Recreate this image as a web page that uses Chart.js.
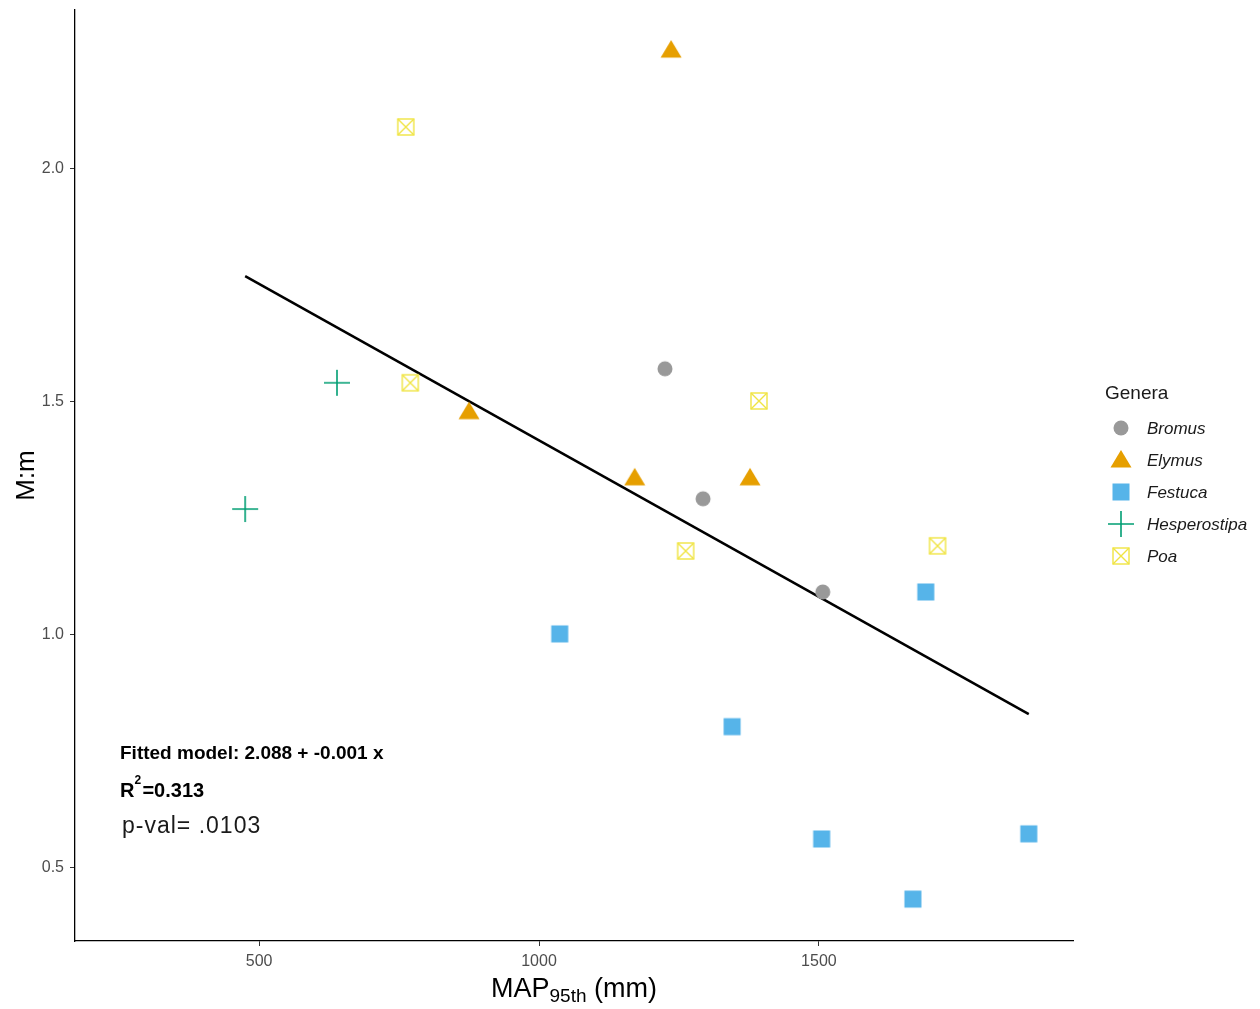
<!DOCTYPE html>
<html>
<head>
<meta charset="utf-8">
<script src="https://cdn.jsdelivr.net/npm/chart.js@4.4.1/dist/chart.umd.min.js"></script>
<style>
  html, body { margin: 0; padding: 0; background: #ffffff; }
  #wrap { width: 1260px; height: 1009px; position: relative; }
</style>
</head>
<body>
<div id="wrap"><canvas id="chart" width="1260" height="1009"></canvas></div>
<script>
// Mean annual precipitation (95th percentile, mm) vs M:m ratio, by genus
const bromusX = [1225, 1293, 1507];
const bromusY = [1.571, 1.292, 1.092];
const elymusX = [1236, 875, 1171, 1377];
const elymusY = [2.255, 1.479, 1.337, 1.337];
const festucaX = [1037, 1345, 1505, 1668, 1691, 1875];
const festucaY = [1.002, 0.803, 0.562, 0.433, 1.092, 0.573];
const hesperostipaX = [639, 475];
const hesperostipaY = [1.541, 1.270];
const poaX = [762, 770, 1393, 1262, 1712];
const poaY = [2.090, 1.541, 1.502, 1.180, 1.191];

// Fitted regression line endpoints
const fitX = [475, 1875];
const fitY = [1.770, 0.830];

const xTicks = [500, 1000, 1500];
const yTicks = [0.5, 1.0, 1.5, 2.0];

const generaNames = ['Bromus', 'Elymus', 'Festuca', 'Hesperostipa', 'Poa'];
const generaColors = ['#999999', '#E69F00', '#56B4E9', '#009E73', '#F0E442'];

const modelText = 'Fitted model: 2.088 + -0.001 x';
const r2Text = '0.313';
const pText = 'p-val= .0103';

function makeMarker(kind, color) {
  const s = 30;
  const c = document.createElement('canvas');
  c.width = s; c.height = s;
  const g = c.getContext('2d');
  const m = s / 2;
  g.fillStyle = color;
  g.strokeStyle = color;
  if (kind === 'circle') {
    g.beginPath(); g.arc(m, m, 7.5, 0, Math.PI * 2); g.fill();
  } else if (kind === 'triangle') {
    g.beginPath(); g.moveTo(m, m - 10); g.lineTo(m + 10.5, m + 7.5); g.lineTo(m - 10.5, m + 7.5); g.closePath(); g.fill();
  } else if (kind === 'square') {
    g.fillRect(m - 8.5, m - 8.5, 17, 17);
  } else if (kind === 'plus') {
    g.lineWidth = 1.6;
    g.beginPath(); g.moveTo(m - 13, m); g.lineTo(m + 13, m); g.moveTo(m, m - 13); g.lineTo(m, m + 13); g.stroke();
  } else if (kind === 'boxx') {
    g.lineWidth = 1.4;
    g.strokeRect(m - 8, m - 8, 16, 16);
    g.beginPath(); g.moveTo(m - 8, m - 8); g.lineTo(m + 8, m + 8); g.moveTo(m + 8, m - 8); g.lineTo(m - 8, m + 8); g.stroke();
  }
  return c;
}

const markerKinds = ['circle', 'triangle', 'square', 'plus', 'boxx'];
const markers = markerKinds.map((k, i) => makeMarker(k, generaColors[i]));

function pts(xs, ys) { return xs.map((x, i) => ({ x: x, y: ys[i] })); }

const seriesX = [bromusX, elymusX, festucaX, hesperostipaX, poaX];
const seriesY = [bromusY, elymusY, festucaY, hesperostipaY, poaY];

const datasets = [{
  type: 'line',
  label: 'fit',
  data: pts(fitX, fitY),
  borderColor: '#000000',
  borderWidth: 2.5,
  pointRadius: 0,
  fill: false,
  order: 10
}];
generaNames.forEach((name, i) => {
  datasets.push({
    type: 'scatter',
    label: name,
    data: pts(seriesX[i], seriesY[i]),
    pointStyle: markers[i],
    backgroundColor: generaColors[i],
    borderColor: generaColors[i],
    order: i
  });
});

const FONT = '"Liberation Sans", Arial, sans-serif';

const decorations = {
  id: 'decorations',
  afterDraw(chart) {
    const ctx = chart.ctx;
    const area = chart.chartArea;
    ctx.save();

    // x-axis title with subscript
    const bigF = '27px ' + FONT, subF = '19px ' + FONT;
    ctx.font = bigF; const w1 = ctx.measureText('MAP').width;
    ctx.font = subF; const w2 = ctx.measureText('95th').width;
    ctx.font = bigF; const w3 = ctx.measureText(' (mm)').width;
    const total = w1 + w2 + w3;
    let x0 = (area.left + area.right) / 2 - total / 2;
    const base = 997;
    ctx.fillStyle = '#000000';
    ctx.textBaseline = 'alphabetic';
    ctx.textAlign = 'left';
    ctx.font = bigF; ctx.fillText('MAP', x0, base);
    ctx.font = subF; ctx.fillText('95th', x0 + w1, base + 5);
    ctx.font = bigF; ctx.fillText(' (mm)', x0 + w1 + w2, base);

    // y-axis title
    ctx.save();
    ctx.translate(34, (area.top + area.bottom) / 2);
    ctx.rotate(-Math.PI / 2);
    ctx.textAlign = 'center';
    ctx.font = '26px ' + FONT;
    ctx.fillText('M:m', 0, 0);
    ctx.restore();

    // model annotation
    ctx.textAlign = 'left';
    ctx.textBaseline = 'alphabetic';
    ctx.font = 'bold 19px ' + FONT;
    ctx.fillText(modelText, 120, 759);
    ctx.font = 'bold 20px ' + FONT;
    ctx.fillText('R', 120, 797);
    const rw = ctx.measureText('R').width;
    ctx.font = 'bold 12px ' + FONT;
    ctx.fillText('2', 120 + rw, 784);
    ctx.font = 'bold 20px ' + FONT;
    ctx.fillText('=' + r2Text, 120 + rw + 8, 797);
    ctx.font = '23px ' + FONT;
    ctx.fillStyle = '#1a1a1a';
    if ('letterSpacing' in ctx) ctx.letterSpacing = '1px';
    ctx.fillText(pText, 122, 833);
    if ('letterSpacing' in ctx) ctx.letterSpacing = '0px';

    // legend
    ctx.fillStyle = '#1a1a1a';
    ctx.font = '19px ' + FONT;
    ctx.textBaseline = 'middle';
    ctx.fillText('Genera', 1105, 394);
    ctx.font = 'italic 17px ' + FONT;
    generaNames.forEach((name, i) => {
      const cy = 428 + i * 32;
      const img = markers[i];
      ctx.drawImage(img, 1121 - img.width / 2, cy - img.height / 2);
      ctx.fillText(name, 1147, cy + 1);
    });
    ctx.restore();
  }
};

function noEdgePadding(s) {
  s.paddingTop = 0; s.paddingBottom = 0; s.paddingLeft = 0; s.paddingRight = 0;
}

new Chart(document.getElementById('chart'), {
  data: { datasets: datasets },
  plugins: [decorations],
  options: {
    responsive: false,
    animation: false,
    layout: { padding: { top: 10, right: 187, left: 0, bottom: 0 } },
    plugins: { legend: { display: false }, tooltip: { enabled: false } },
    scales: {
      x: {
        type: 'linear',
        min: 171,
        max: 1954,
        afterBuildTicks: s => { s.ticks = xTicks.map(v => ({ value: v })); },
        afterFit: s => { s.height = 68; noEdgePadding(s); },
        grid: { drawOnChartArea: false, drawTicks: true, tickLength: 5, color: '#333333', lineWidth: 1 },
        border: { display: true, color: '#000000', width: 1.3 },
        ticks: { color: '#4d4d4d', font: { size: 16, family: FONT }, padding: 6, maxRotation: 0, callback: v => String(v) }
      },
      y: {
        type: 'linear',
        min: 0.343,
        max: 2.341,
        afterBuildTicks: s => { s.ticks = yTicks.map(v => ({ value: v })); },
        afterFit: s => { s.width = 75; noEdgePadding(s); },
        grid: { drawOnChartArea: false, drawTicks: true, tickLength: 5, color: '#333333', lineWidth: 1 },
        border: { display: true, color: '#000000', width: 1.3 },
        ticks: { color: '#4d4d4d', font: { size: 16, family: FONT }, padding: 6, callback: v => v.toFixed(1) }
      }
    }
  }
});
</script>
</body>
</html>
